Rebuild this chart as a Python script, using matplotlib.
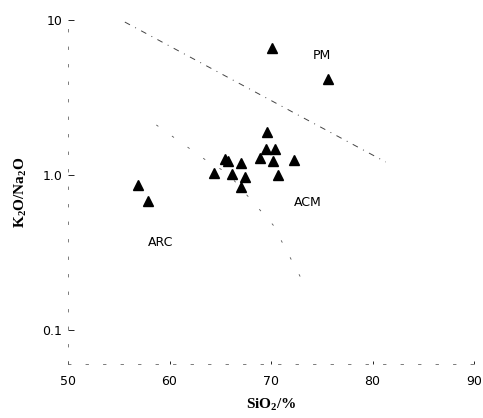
import matplotlib
matplotlib.use("Agg")
import matplotlib.pyplot as plt

# SiO2 (%) and K2O/Na2O of the samples
SIO2 = [69.6, 69.5, 70.4, 68.9, 70.2, 72.3, 70.7, 65.5, 65.8, 67.0,
        64.4, 66.2, 67.4, 67.0, 56.9, 57.9, 70.1, 75.6]
K2O_NA2O = [1.89, 1.47, 1.47, 1.28, 1.22, 1.25, 1.00, 1.26, 1.22, 1.19,
            1.03, 1.01, 0.975, 0.83, 0.86, 0.68, 6.57, 4.14]

# field boundaries (faded in the scan)
PM_ACM_X = [55.6, 81.3]
PM_ACM_Y = [9.7, 1.21]
ACM_ARC_X = [58.7, 64.0, 65.7, 70.2, 73.3]
ACM_ARC_Y = [2.10, 1.19, 1.03, 0.475, 0.195]

FIELDS = ["PM", "ACM", "ARC"]
FIELD_X = [75.0, 73.6, 59.1]
FIELD_Y = [5.86, 0.66, 0.364]

XTICKS = [50, 60, 70, 80, 90]
YTICKS = [10, 1.0, 0.1]
YTICKLABELS = ["10", "1.0", "0.1"]

plt.rcParams["font.family"] = "DejaVu Sans"

fig = plt.figure(figsize=(4.83, 4.18), dpi=100)
ax = fig.add_axes([68 / 483, 1 - 364 / 418, 406 / 483, 344 / 418])

ax.plot(PM_ACM_X, PM_ACM_Y, color="#444444", lw=0.7, ls=(0, (6, 6, 1, 6)))
ax.plot(ACM_ARC_X, ACM_ARC_Y, color="#555555", lw=0.6, ls=(0, (3, 20)))
ax.plot(SIO2, K2O_NA2O, ls="none", marker="^", ms=7.5, color="black")

for name, fx, fy in zip(FIELDS, FIELD_X, FIELD_Y):
    ax.text(fx, fy, name, fontsize=9, ha="center", va="center")

ax.set_yscale("log")
ax.set_xlim(50, 90)
ax.set_ylim(0.06, 10)
ax.set_xticks(XTICKS)
ax.set_xticklabels([str(t) for t in XTICKS])
ax.set_yticks(YTICKS)
ax.set_yticklabels(YTICKLABELS)
ax.minorticks_off()
ax.tick_params(axis="y", direction="in", length=4, width=0.6, labelsize=9, pad=4)
ax.tick_params(axis="x", direction="in", length=2, width=0.6, labelsize=9, pad=8)

for side in ["top", "right"]:
    ax.spines[side].set_visible(False)
for side in ["left", "bottom"]:
    ax.spines[side].set_linewidth(0.6)
    ax.spines[side].set_color("#666666")
    ax.spines[side].set_linestyle((0, (3, 18)))

ax.set_xlabel(r"SiO$_\mathregular{2}$/%", fontsize=11, fontfamily="Liberation Serif",
              fontweight="bold", labelpad=6)
ax.set_ylabel(r"K$_\mathregular{2}$O/Na$_\mathregular{2}$O", fontsize=11,
              fontfamily="Liberation Serif", fontweight="bold", labelpad=10)

fig.savefig("out.png", dpi=100)
